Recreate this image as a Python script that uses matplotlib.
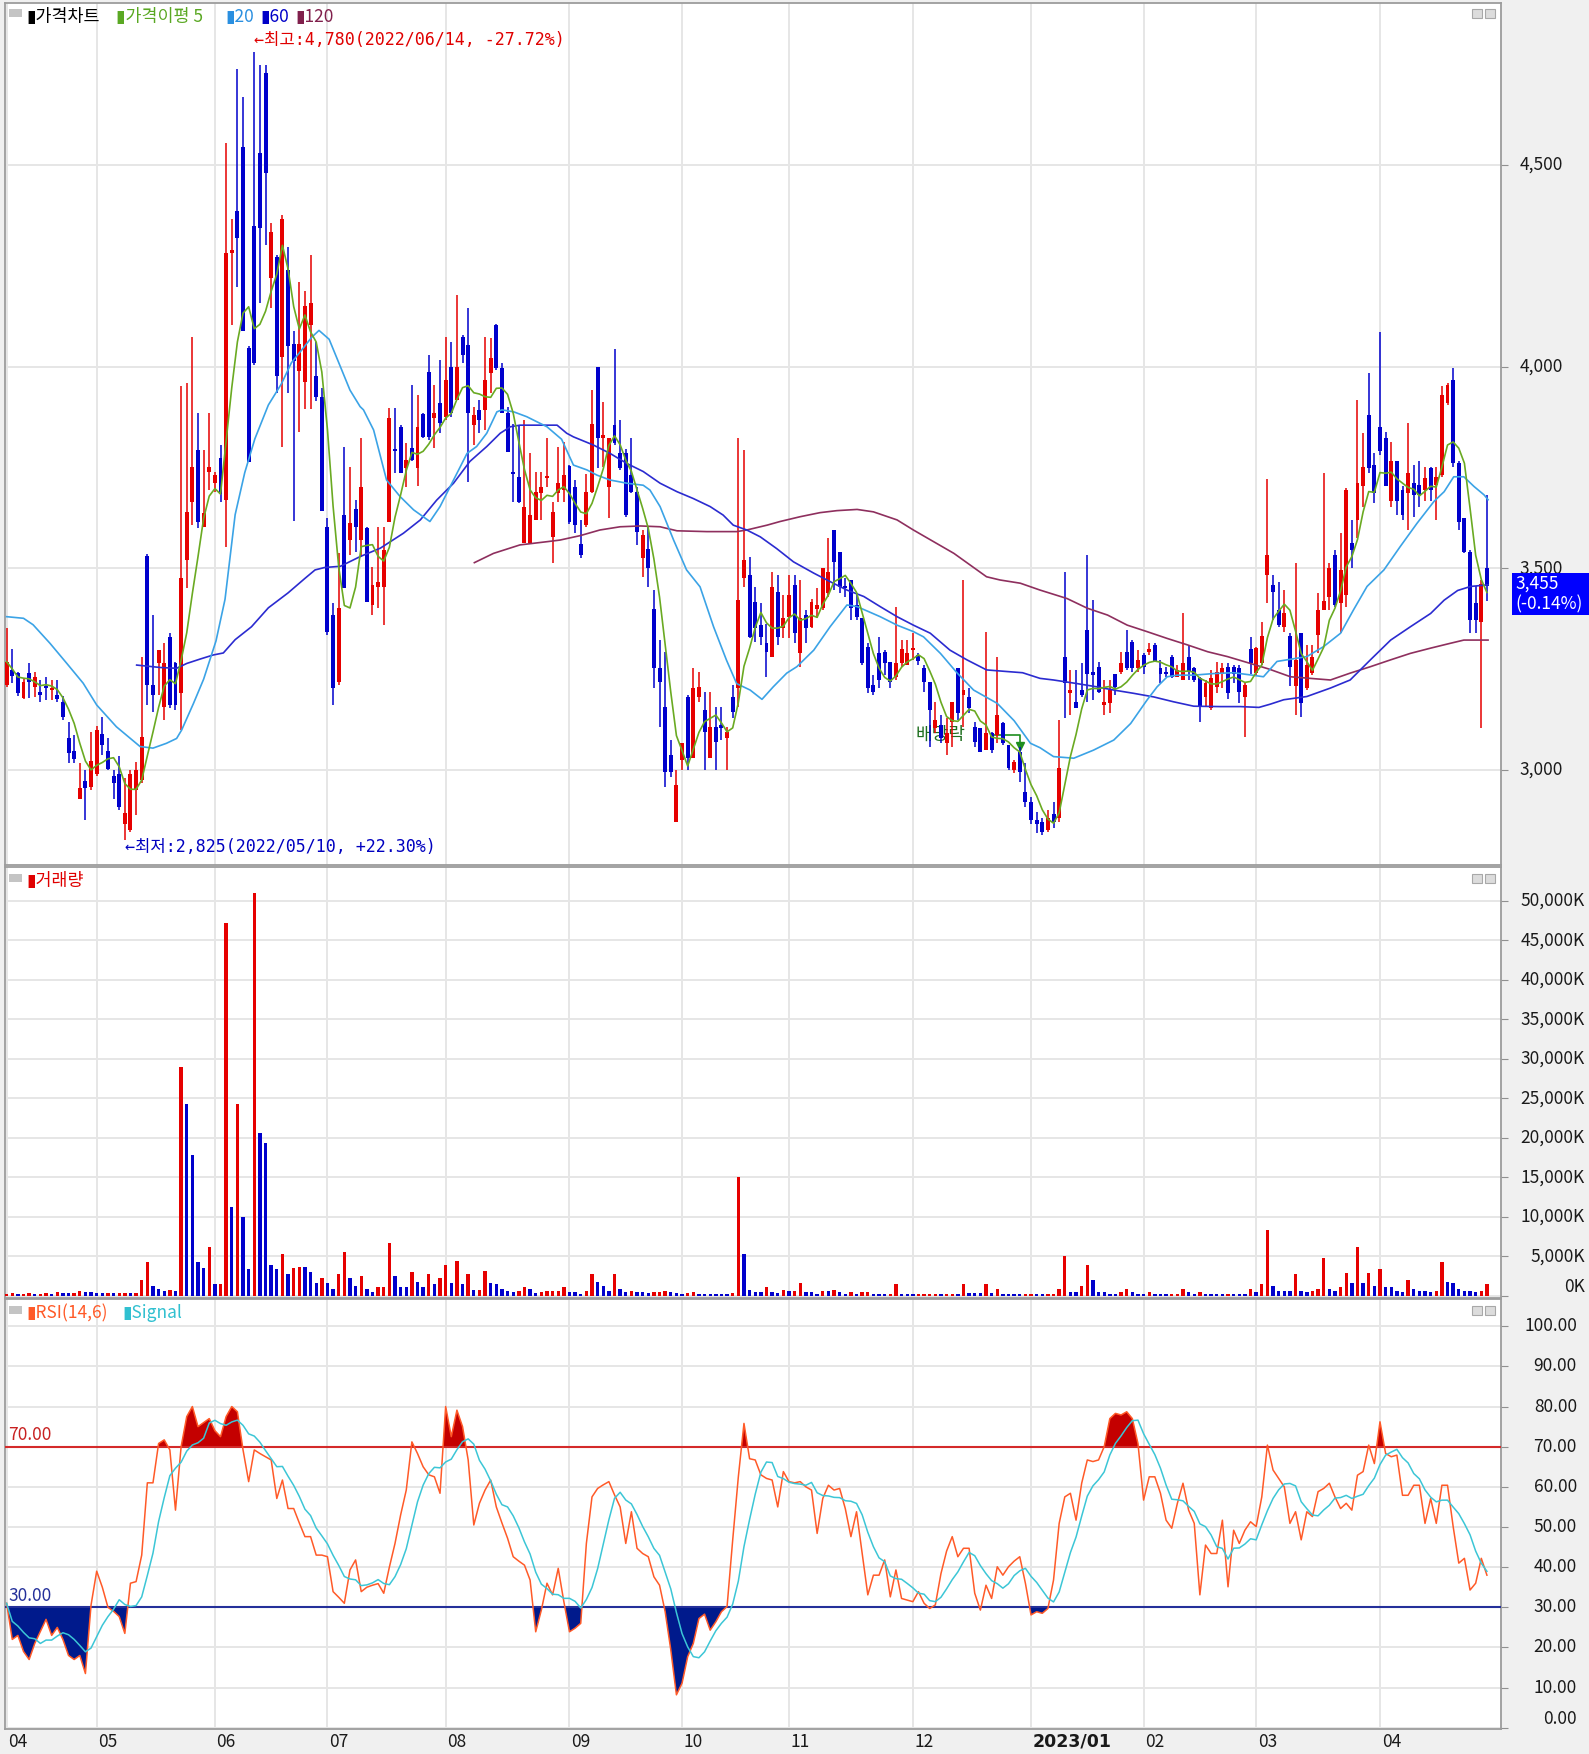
import numpy as np
import pandas as pd
import matplotlib
matplotlib.use("Agg")
import matplotlib.pyplot as plt
import matplotlib.transforms as mtransforms
from matplotlib.patches import Rectangle

plt.rcParams['font.family'] = ['Noto Sans CJK KR', 'DejaVu Sans']
plt.rcParams['axes.unicode_minus'] = False

# Trading days shown per month (Apr-2022 partial ... Apr-2023)
month_labels = ['04', '05', '06', '07', '08', '09', '10', '11', '12', '2023/01', '02', '03', '04']
month_days = [16, 21, 20, 21, 22, 20, 19, 22, 21, 20, 20, 22, 20]

opens = [
    3211, 3248, 3241, 3178, 3240, 3206, 3194, 3207, 3198, 3186, 3169, 3078, 3048, 2927, 2973, 2958,
    2990, 3088, 3048, 2985, 2991, 2867, 2851, 2950, 2975, 3530, 3211, 3264, 3157, 3330, 3264, 3190,
    3520, 3665, 3793, 3603, 3740, 3711, 3774, 3669, 4282, 4387, 4546, 4046, 4350, 4529, 4728, 4219,
    4272, 4025, 4240, 4057, 3989, 3963, 4104, 3978, 3926, 3603, 3384, 3219, 3632, 3570, 3646, 3570,
    3599, 3409, 3454, 3454, 3616, 3795, 3851, 3748, 3798, 3748, 3882, 3988, 3872, 3909, 3876, 4000,
    3917, 4074, 4054, 3855, 3893, 3893, 3984, 4103, 3996, 3884, 3740, 3727, 3562, 3562, 3620, 3686,
    3723, 3578, 3686, 3694, 3754, 3702, 3560, 3607, 3690, 4000, 3822, 3702, 3855, 3785, 3785, 3731,
    3690, 3525, 3549, 3400, 3252, 3157, 3037, 2871, 3024, 3182, 3029, 3182, 3148, 3029, 3107, 3111,
    3078, 3182, 3202, 3475, 3483, 3417, 3359, 3314, 3281, 3442, 3351, 3380, 3458, 3289, 3384, 3355,
    3400, 3401, 3438, 3595, 3541, 3457, 3471, 3409, 3376, 3306, 3211, 3289, 3293, 3268, 3231, 3264,
    3260, 3298, 3285, 3252, 3219, 3103, 3111, 3066, 3120, 3252, 3186, 3182, 3107, 3103, 3049, 3091,
    3087, 3116, 3062, 2999, 3045, 2946, 2921, 2876, 2870, 2852, 2890, 2880, 3281, 3190, 3169, 3198,
    3347, 3244, 3256, 3161, 3165, 3239, 3244, 3293, 3318, 3252, 3285, 3293, 3310, 3252, 3243, 3281,
    3231, 3223, 3281, 3252, 3227, 3182, 3153, 3206, 3239, 3256, 3256, 3252, 3182, 3301, 3240, 3264,
    3484, 3459, 3397, 3355, 3331, 3207, 3339, 3203, 3240, 3335, 3397, 3430, 3533, 3413, 3434, 3562,
    3620, 3703, 3880, 3756, 3850, 3823, 3666, 3765, 3694, 3686, 3711, 3707, 3694, 3748, 3707, 3732,
    3909, 3967, 3761, 3624, 3541, 3413, 3368, 3500,
]
highs = [
    3351, 3301, 3244, 3227, 3264, 3244, 3223, 3231, 3223, 3223, 3183, 3120, 3087, 3016, 3000, 3095,
    3110, 3132, 3078, 3000, 3035, 2979, 3000, 3020, 3281, 3535, 3384, 3297, 3314, 3339, 3268, 3952,
    3960, 4074, 3884, 3793, 3884, 3740, 3806, 4555, 4366, 4738, 4670, 4052, 4780, 4749, 4749, 4356,
    4277, 4377, 4298, 4088, 4209, 4188, 4277, 4062, 3947, 3624, 3413, 3537, 3802, 3752, 3669, 3822,
    3603, 3504, 3603, 3603, 3897, 3897, 3855, 3810, 3955, 3930, 3884, 4029, 3955, 4017, 4074, 4062,
    4178, 4079, 4145, 3901, 3917, 4074, 4070, 4107, 4008, 3901, 3859, 3855, 3868, 3785, 3740, 3740,
    3822, 3665, 3802, 3814, 3756, 3719, 3620, 3735, 3942, 4000, 3913, 3822, 4045, 3868, 3797, 3822,
    3702, 3595, 3603, 3446, 3322, 3293, 3074, 3000, 3066, 3186, 3252, 3244, 3194, 3194, 3157, 3157,
    3107, 3211, 3822, 3793, 3529, 3454, 3413, 3363, 3491, 3483, 3434, 3483, 3483, 3471, 3397, 3425,
    3450, 3500, 3574, 3595, 3541, 3475, 3471, 3438, 3376, 3314, 3235, 3330, 3297, 3268, 3405, 3322,
    3322, 3339, 3289, 3260, 3219, 3169, 3136, 3128, 3169, 3252, 3471, 3202, 3120, 3103, 3343, 3095,
    3281, 3120, 3062, 3025, 3058, 3016, 2934, 2896, 2880, 2900, 2920, 3124, 3491, 3248, 3248, 3264,
    3533, 3421, 3268, 3223, 3223, 3239, 3293, 3347, 3322, 3297, 3289, 3314, 3314, 3272, 3256, 3285,
    3260, 3388, 3310, 3256, 3231, 3223, 3248, 3268, 3264, 3264, 3260, 3260, 3215, 3330, 3306, 3368,
    3721, 3484, 3467, 3446, 3339, 3513, 3339, 3310, 3310, 3438, 3736, 3513, 3546, 3587, 3699, 3620,
    3918, 3835, 3984, 3785, 4087, 3839, 3814, 3765, 3703, 3860, 3756, 3765, 3752, 3752, 3752, 3951,
    3959, 3996, 3765, 3624, 3546, 3455, 3470, 3682,
]
lows = [
    3205, 3215, 3184, 3175, 3178, 3182, 3169, 3173, 3173, 3169, 3124, 3018, 3018, 2927, 2876, 2950,
    2985, 3037, 3000, 2927, 2901, 2825, 2845, 2888, 2967, 3160, 3144, 3186, 3124, 3153, 3149, 3099,
    3450, 3607, 3599, 3603, 3694, 3690, 3664, 3554, 4104, 4198, 4088, 3764, 4005, 4157, 4303, 4146,
    3936, 3800, 3936, 3617, 3837, 3895, 3895, 3915, 3643, 3335, 3161, 3211, 3450, 3533, 3541, 3529,
    3417, 3384, 3401, 3359, 3616, 3736, 3736, 3702, 3765, 3703, 3822, 3818, 3798, 3835, 3868, 3876,
    3917, 4008, 3715, 3806, 3835, 3843, 3934, 3992, 3884, 3789, 3665, 3661, 3562, 3562, 3620, 3620,
    3702, 3512, 3665, 3665, 3611, 3587, 3525, 3603, 3686, 3748, 3752, 3624, 3806, 3744, 3628, 3686,
    3558, 3479, 3454, 3202, 3107, 2958, 2983, 2871, 3000, 3000, 3029, 3169, 3000, 3029, 3000, 3074,
    3000, 3128, 3157, 3454, 3326, 3318, 3310, 3231, 3281, 3310, 3326, 3326, 3314, 3256, 3314, 3351,
    3376, 3397, 3430, 3446, 3438, 3430, 3372, 3372, 3260, 3190, 3186, 3202, 3235, 3202, 3223, 3256,
    3260, 3273, 3260, 3194, 3058, 3091, 3066, 3037, 3058, 3124, 3107, 3140, 3058, 3045, 3049, 3041,
    3066, 3062, 3000, 2992, 2971, 2909, 2867, 2843, 2838, 2845, 2855, 2870, 3128, 3136, 3153, 3182,
    3169, 3173, 3190, 3136, 3140, 3186, 3239, 3248, 3244, 3244, 3239, 3285, 3268, 3215, 3231, 3227,
    3231, 3223, 3223, 3219, 3120, 3157, 3148, 3190, 3202, 3177, 3215, 3165, 3082, 3239, 3236, 3260,
    3413, 3372, 3355, 3343, 3207, 3136, 3132, 3198, 3236, 3289, 3397, 3397, 3405, 3339, 3405, 3500,
    3575, 3653, 3736, 3661, 3780, 3703, 3653, 3632, 3620, 3595, 3628, 3653, 3666, 3666, 3620, 3727,
    3905, 3752, 3595, 3537, 3339, 3339, 3103, 3418,
]
closes = [
    3268, 3233, 3190, 3219, 3219, 3231, 3186, 3202, 3202, 3175, 3130, 3043, 3027, 2955, 2954, 3021,
    3100, 3062, 3001, 2967, 2909, 2892, 2991, 3000, 3082, 3210, 3186, 3297, 3264, 3161, 3161, 3475,
    3640, 3752, 3616, 3636, 3752, 3732, 3685, 4282, 4290, 4319, 4088, 3764, 4010, 4345, 4481, 4335,
    3978, 4366, 4052, 4015, 4057, 4151, 4157, 3926, 3643, 3343, 3202, 3401, 3450, 3612, 3603, 3702,
    3417, 3459, 3467, 3545, 3872, 3790, 3737, 3768, 3769, 3851, 3826, 3826, 3884, 3860, 3967, 3884,
    4000, 4029, 3884, 3880, 3868, 3967, 4021, 3996, 3884, 3789, 3734, 3665, 3653, 3632, 3690, 3702,
    3728, 3640, 3711, 3731, 3616, 3607, 3533, 3690, 3859, 3822, 3830, 3822, 3810, 3748, 3632, 3690,
    3591, 3582, 3500, 3252, 3219, 2996, 2996, 2962, 3066, 3029, 3202, 3206, 3095, 3107, 3070, 3105,
    3095, 3144, 3421, 3520, 3330, 3351, 3330, 3293, 3454, 3330, 3376, 3434, 3339, 3376, 3351, 3417,
    3409, 3500, 3492, 3516, 3454, 3450, 3401, 3380, 3264, 3202, 3194, 3223, 3264, 3219, 3266, 3301,
    3289, 3302, 3269, 3219, 3149, 3124, 3078, 3091, 3169, 3140, 3198, 3153, 3070, 3045, 3091, 3049,
    3136, 3066, 3004, 3020, 2996, 2921, 2876, 2867, 2846, 2880, 2870, 3004, 3215, 3198, 3153, 3186,
    3239, 3235, 3194, 3169, 3198, 3206, 3264, 3252, 3252, 3272, 3256, 3301, 3268, 3239, 3239, 3231,
    3248, 3264, 3244, 3223, 3157, 3215, 3227, 3244, 3252, 3190, 3239, 3194, 3210, 3264, 3302, 3331,
    3533, 3442, 3360, 3389, 3256, 3273, 3165, 3260, 3281, 3397, 3418, 3500, 3409, 3496, 3694, 3546,
    3711, 3752, 3748, 3686, 3790, 3703, 3765, 3666, 3632, 3736, 3682, 3682, 3723, 3694, 3727, 3930,
    3955, 3761, 3616, 3541, 3372, 3372, 3460, 3455,
]
# volume in thousands of shares
volume_k = [
    300, 320, 300, 310, 320, 300, 310, 320, 300, 460, 330, 320, 340, 670, 500, 500,
    340, 330, 340, 330, 335, 340, 330, 340, 2024, 4343, 1265, 886, 675, 700, 650, 28930,
    24250, 17840, 4343, 3585, 6241, 1476, 1520, 47146, 11300, 24250, 10040, 3374, 50940, 20580, 19310, 3922,
    3374, 5271, 2783, 3585, 3711, 3700, 2994, 1687, 2235, 1687, 886, 2783, 5609, 2235, 1265, 2572,
    886, 464, 1096, 1110, 6747, 2572, 1096, 1090, 2994, 1813, 1096, 2783, 1476, 2235, 3922, 1687,
    4470, 1476, 2783, 759, 780, 3163, 1602, 1476, 886, 675, 464, 675, 1096, 886, 337, 548,
    675, 680, 690, 1096, 464, 460, 253, 675, 2783, 1813, 1265, 675, 2783, 886, 464, 675,
    464, 464, 420, 460, 500, 675, 460, 420, 253, 420, 464, 253, 250, 245, 240, 235,
    230, 337, 15100, 5271, 760, 550, 460, 1100, 500, 420, 700, 680, 690, 1687, 464, 460,
    253, 675, 670, 700, 464, 253, 460, 253, 464, 470, 253, 250, 245, 260, 1476, 253,
    250, 245, 255, 260, 265, 270, 260, 265, 270, 260, 1476, 337, 330, 320, 1476, 337,
    886, 253, 253, 250, 245, 250, 255, 250, 245, 250, 255, 886, 5060, 464, 460, 1265,
    3922, 2024, 464, 460, 253, 250, 464, 886, 464, 253, 250, 464, 253, 250, 245, 250,
    260, 886, 464, 253, 464, 253, 250, 245, 240, 250, 245, 240, 235, 886, 464, 1476,
    8350, 1265, 675, 670, 660, 2783, 675, 464, 675, 886, 4850, 886, 675, 1096, 2952, 1687,
    6157, 1687, 2952, 1265, 3374, 1096, 1090, 675, 464, 2024, 886, 675, 670, 464, 675, 4343,
    1813, 1602, 886, 675, 670, 464, 675, 1476,
]
rsi = [
    31, 22, 23, 19, 17, 21, 24, 27, 23, 25, 22, 18, 17, 18, 13.5, 30.6,
    39, 35, 30, 29, 27.7, 23.5, 36, 36.4, 43, 61, 61, 70.8, 71.7, 69.2, 54.2, 70,
    77.5, 80, 75, 76, 77, 74, 72.5, 77.5, 80, 78.7, 69.2, 61.3, 69.2, 68.3, 67.5, 66.7,
    57.1, 61.7, 54.6, 54.6, 51, 47.6, 47.6, 43, 43, 42.6, 33.9, 32.5, 31, 39.3, 41.8, 33.9,
    35, 35.5, 35.9, 33.5, 40, 45.9, 53, 59.2, 71.2, 68.3, 65, 63, 62.5, 58.4, 80, 72.5,
    79.1, 75, 66.7, 50.5, 55.9, 59.2, 61.7, 55, 51, 47.2, 42.6, 41.5, 40.5, 36.8, 23.9, 29.3,
    36, 33.1, 39.7, 31.4, 23.9, 24.8, 26, 45.9, 57.5, 59.6, 60.5, 61.3, 58, 55, 45.9, 53.8,
    44.7, 43.4, 42.6, 37.6, 35.5, 28.9, 19.4, 8.2, 11.1, 17.7, 21, 27.2, 28.3, 24.3, 26.4, 28.9,
    30.2, 46.8, 62.5, 75.8, 67, 66.7, 63, 62.1, 61.7, 55, 63.8, 61.3, 61, 61.3, 60, 59.2,
    48.4, 57.1, 60.4, 59.2, 59.6, 54.6, 47.6, 53.8, 43.4, 33.1, 38, 38, 41.8, 32.6, 39.3, 32.2,
    31.8, 31.4, 33.9, 31, 29.7, 30.6, 38.4, 44, 47.6, 42.6, 44.7, 44.7, 33.5, 29.3, 35.5, 32.2,
    40.1, 38, 40.1, 41.5, 42.6, 36, 28.1, 28.9, 28.5, 29.7, 36.8, 50.9, 57.5, 58.4, 51.7, 60.9,
    66.7, 66.3, 66.7, 70, 77, 78.3, 77.9, 78.7, 77, 70.8, 56.7, 62.5, 62.5, 58.4, 51.7, 49.7,
    55.9, 60.9, 54.2, 50.9, 33.1, 45.5, 43.4, 43.4, 51.7, 35.1, 49.2, 45.9, 49.2, 51.3, 50.1, 57.5,
    70.4, 64.2, 62.1, 60, 50.9, 53.8, 46.8, 53.8, 52.6, 58.8, 59.6, 60.9, 57.5, 54.6, 55.9, 54.2,
    62.9, 63.8, 70.4, 65.8, 76.2, 68.3, 67.5, 67.9, 57.9, 57.9, 60.4, 60.4, 50.9, 57.1, 50.9, 60.4,
    60.4, 50.1, 41, 42.2, 34.3, 36, 42.2, 38,
]

# moving averages as (day, value) points
ma20_days = [0, 3, 4.7, 7.7, 10.7, 13.6, 16, 19.5, 23.7, 26, 28.4, 30.2, 31.1, 33.2, 35, 37.2, 38.8, 40.6,
             42.3, 44.1, 46.5, 48.8, 50.6, 52.4, 54.2, 55.5, 57.3, 59.3, 61, 62.8, 63.4, 65.2, 67.5, 69.9,
             72.3, 75.2, 77, 79.4, 81.8, 83.5, 85.3, 87.1, 88, 90.1, 92.4, 96, 98.6, 100.7, 103.1, 104.9,
             107.2, 110.2, 113.1, 114.3, 116.1, 118.5, 120.8, 123.2, 125.6, 127.9, 129.7, 132.1, 134.2,
             136.2, 138.6, 140.4, 143.4, 146.3, 149.3, 151.1, 155.2, 158.2, 161.1, 162.9, 165.9, 168.9,
             171.8, 176, 179, 181.9, 183.6, 186, 189.6, 193.1, 196.7, 199.7, 202.6, 204.4, 206.2, 208,
             210.9, 214.5, 218, 221.3, 223.3, 225.7, 231, 234, 237, 239.3, 241.7, 244.7, 247.6, 250.6,
             253.6, 255.4, 257.1, 258.9, 260.7, 262.5, 263.2]
ma20_vals = [3380, 3376, 3360, 3314, 3264, 3215, 3161, 3107, 3058, 3054, 3066, 3078, 3099, 3165, 3225, 3320,
             3423, 3633, 3737, 3821, 3905, 3957, 4010, 4041, 4073, 4090, 4068, 4000, 3942, 3901, 3893, 3843,
             3719, 3678, 3645, 3616, 3653, 3719, 3785, 3802, 3835, 3888, 3893, 3888, 3876, 3851, 3820, 3756,
             3744, 3731, 3719, 3711, 3706, 3694, 3653, 3570, 3496, 3454, 3355, 3272, 3214, 3198, 3175, 3206,
             3240, 3256, 3297, 3355, 3409, 3405, 3380, 3359, 3343, 3330, 3289, 3240, 3198, 3165, 3122, 3066,
             3055, 3033, 3029, 3049, 3074, 3115, 3173, 3206, 3231, 3235, 3235, 3239, 3241, 3235, 3231, 3269,
             3281, 3306, 3339, 3397, 3455, 3496, 3554, 3612, 3666, 3690, 3727, 3727, 3703, 3682, 3670]
ma60_days = [23.1, 27.3, 30.2, 32, 34.4, 36.7, 38.5, 40.6, 43.5, 46.5, 50, 53, 54.8, 56.5, 59.3, 62.8, 66.4,
             70.5, 73.5, 76.4, 79.4, 82.3, 85.3, 87.7, 89.5, 91.2, 94.2, 97.8, 99.5, 100.7, 104.2, 107.2,
             110.2, 113.1, 116.1, 119.1, 122, 125, 127.3, 129.1, 131.5, 133.9, 136.8, 139.8, 143.4, 146.3,
             149.3, 152.3, 155.2, 158.2, 161.1, 164.1, 167.6, 170.6, 174.1, 177.7, 180.5, 183.6, 186, 190.2,
             193.7, 196.7, 200.2, 203.8, 207.3, 210.9, 215.6, 219.2, 222.5, 224.5, 226.9, 231, 235.2, 238.7,
             242.3, 245.9, 249.4, 253, 255.4, 257.8, 260.1, 263.2]
ma60_vals = [3260, 3254, 3252, 3264, 3275, 3285, 3290, 3323, 3355, 3402, 3439, 3475, 3496, 3502, 3505, 3529,
             3550, 3587, 3620, 3669, 3711, 3765, 3802, 3835, 3851, 3855, 3855, 3855, 3835, 3826, 3806, 3785,
             3760, 3740, 3711, 3690, 3673, 3653, 3632, 3607, 3595, 3578, 3549, 3516, 3488, 3467, 3446, 3430,
             3405, 3380, 3359, 3339, 3297, 3273, 3248, 3244, 3241, 3227, 3223, 3214, 3206, 3198, 3190, 3181,
             3169, 3158, 3157, 3157, 3155, 3163, 3174, 3182, 3203, 3223, 3273, 3322, 3355, 3388, 3421, 3445,
             3455, 3459]
ma120_days = [83.1, 86.5, 91.2, 96, 98.3, 101.9, 105.4, 109, 112.6, 116.1, 119.1, 124.4, 129.7, 131.5, 135.1,
              137.4, 141, 144.5, 147.5, 151.1, 154, 158.2, 161.1, 164.7, 168.3, 171.2, 174.1, 176.5, 180.1,
              183.6, 188.4, 192, 195.6, 199.1, 202.6, 206.2, 209.8, 213.4, 216.9, 220.5, 224.3, 228.1, 231.6,
              235.2, 238.7, 242.3, 245.9, 249.4, 253, 256.5, 258.9, 263.2]
ma120_vals = [3514, 3537, 3558, 3566, 3570, 3581, 3595, 3603, 3605, 3603, 3593, 3591, 3591, 3595, 3607,
              3616, 3628, 3638, 3643, 3646, 3640, 3620, 3595, 3566, 3537, 3508, 3479, 3471, 3463,
              3446, 3425, 3401, 3384, 3359, 3343, 3326, 3310, 3293, 3281, 3266, 3250, 3231, 3227,
              3223, 3240, 3256, 3273, 3289, 3302, 3314, 3322, 3322]

for arr in (opens, highs, lows, closes, volume_k, rsi):
    assert len(arr) == 264, len(arr)

RED, BLUE = '#e60000', '#0000cc'
W, H = 1589, 1754
MONO = ['DejaVu Sans Mono', 'Noto Sans CJK KR']


def rect(x0, y0, x1, y1):
    return [x0 / W, 1 - y1 / H, (x1 - x0) / W, (y1 - y0) / H]


def px(x, y):
    return x / W, 1 - y / H


o, h, l, c = (np.array(a, dtype=float) for a in (opens, highs, lows, closes))
x = np.arange(len(c))
month_start = np.concatenate([[0], np.cumsum(month_days)[:-1]])

fig = plt.figure(figsize=(W / 100, H / 100), dpi=100, facecolor='#f0f0f0')
ax_p = fig.add_axes(rect(5, 3, 1501, 865))
ax_v = fig.add_axes(rect(5, 867, 1501, 1298))
ax_r = fig.add_axes(rect(5, 1299, 1501, 1729))


def style(ax, ylim, yticks, labels, label_x):
    ax.set_xlim(-0.29, 265.5)
    ax.set_ylim(*ylim)
    ax.set_facecolor('white')
    ax.set_xticks(month_start)
    ax.set_yticks(yticks)
    ax.grid(True, color='#e6e6e6', lw=1.4)
    ax.set_axisbelow(True)
    ax.tick_params(axis='x', length=0, labelbottom=False)
    ax.tick_params(axis='y', left=False, right=True, length=5, color='#909090',
                   labelleft=False, labelright=False)
    for s in ax.spines.values():
        s.set_color('#9c9c9c')
        s.set_linewidth(1.3)
    tr = mtransforms.blended_transform_factory(ax.transAxes, ax.transData)
    for v, t in zip(yticks, labels):
        ax.text(label_x, v, t, transform=tr, ha='right', va='bottom' if v == 0 else 'center',
                fontsize=12.5, color='#1a1a1a', clip_on=False)


# ---- price panel
price_ticks = [3000, 3500, 4000, 4500]
k = 500 / 201.6
style(ax_p, (4000 - (865 - 366.7) * k, 4000 + (366.7 - 3) * k), price_ticks,
      [f'{v:,}' for v in price_ticks], 1.0414)

col = np.where(c >= o, RED, BLUE)
ax_p.vlines(x, l, h, colors=col, lw=1.1, zorder=3)
body = np.maximum(np.abs(c - o), 4)
ax_p.bar(x, body, bottom=np.minimum(o, c), width=0.7, color=col, linewidth=0, zorder=4)

ma5 = pd.Series(c).rolling(5, min_periods=1).mean()
ax_p.plot(ma120_days, ma120_vals, color='#8e2f5e', lw=1.2, zorder=5)
ax_p.plot(ma60_days, ma60_vals, color='#2b2bd0', lw=1.2, zorder=5)
ax_p.plot(ma20_days, ma20_vals, color='#3ba3e6', lw=1.2, zorder=5)
ax_p.plot(x, ma5, color='#6aaa22', lw=1.2, zorder=6)

hi, lo = int(np.argmax(h)), int(np.argmin(l))
ax_p.text(hi, 4810, f'←최고:{h[hi]:,.0f}(2022/06/14, -27.72%)', color='#e00000',
          fontsize=12, family=MONO, ha='left', va='center', zorder=7)
ax_p.text(lo, 2808, f'←최저:{l[lo]:,.0f}(2022/05/10, +22.30%)', color='#0000c0',
          fontsize=12, family=MONO, ha='left', va='center', zorder=7)

# ex-dividend marker
ax_p.text(161.5, 3087, '배당락', color='#1e6e1e', fontsize=13, ha='left', va='center', zorder=2)
ax_p.plot([175.2, 180, 180], [3087, 3087, 3064], color='#1e8e1e', lw=1.2, zorder=2)
ax_p.plot([180], [3060], marker='v', color='#1e8e1e', ms=6, zorder=2)

# ---- volume panel
vol = np.array(volume_k, dtype=float)
vcol = [RED] + [RED if vol[i] > vol[i - 1] else BLUE for i in range(1, len(vol))]
vk = 50000 / 395.3
vol_ticks = list(range(0, 50001, 5000))
style(ax_v, (-(1298 - 1296) * vk, (1296 - 867) * vk), vol_ticks,
      [f'{v:,}K' for v in vol_ticks], 1.0561)
ax_v.bar(x, vol, width=0.6, color=vcol, linewidth=0, zorder=3)

# ---- RSI panel
r = np.array(rsi)
signal = pd.Series(r).rolling(6, min_periods=1).mean()
rk = 40 / 160.6
rsi_ticks = list(range(0, 101, 10))
style(ax_r, (-(1729 - 1727.75) * rk, 100 + (1326.25 - 1299) * rk), rsi_ticks,
      [f'{v:.2f}' for v in rsi_ticks], 1.0508)
ax_r.fill_between(x, r, 70, where=r >= 70, interpolate=True, color='#c40000', lw=0, zorder=2)
ax_r.fill_between(x, r, 30, where=r <= 30, interpolate=True, color='#001a8c', lw=0, zorder=2)
ax_r.axhline(70, color='#d42a2a', lw=1.5, zorder=3)
ax_r.axhline(30, color='#24309a', lw=1.5, zorder=3)
ax_r.plot(x, r, color='#ff5a28', lw=1.1, zorder=4)
ax_r.plot(x, signal, color='#3cc6d6', lw=1.1, zorder=5)
trr = mtransforms.blended_transform_factory(ax_r.transAxes, ax_r.transData)
ax_r.text(0.002, 70.6, '70.00', transform=trr, color='#c82020', fontsize=12.5, va='bottom')
ax_r.text(0.002, 30.6, '30.00', transform=trr, color='#24309a', fontsize=12.5, va='bottom')

# month labels along the bottom
trx = mtransforms.blended_transform_factory(ax_r.transData, ax_r.transAxes)
for ms, lab in zip(month_start, month_labels):
    bold = '/' in lab
    ax_r.text(ms + 0.3, -0.03, lab, transform=trx, ha='left', va='center', fontsize=12.5,
              color='#1a1a1a', fontweight='bold' if bold else 'normal',
              family=['DejaVu Sans'] if bold else None, clip_on=False)

# panel headers
for y0 in (9, 874, 1306):
    fig.add_artist(Rectangle(px(9, y0 + 8), 13 / W, 8 / H, transform=fig.transFigure,
                             color='#c4c4c4', lw=0))
    for xx in (1472, 1485):
        fig.add_artist(Rectangle(px(xx, y0 + 9), 10 / W, 9 / H, transform=fig.transFigure,
                                 facecolor='#dcdcdc', edgecolor='#a8a8a8', lw=0.8))

fig.text(*px(26, 17), '▮가격차트', color='#000000', fontsize=12.5, va='center')
fig.text(*px(116, 17), '▮가격이평 5', color='#5aa823', fontsize=12.5, va='center')
fig.text(*px(225, 17), '▮20', color='#2a8fe0', fontsize=12.5, va='center')
fig.text(*px(260, 17), '▮60', color='#0000c8', fontsize=12.5, va='center')
fig.text(*px(295, 17), '▮120', color='#80204c', fontsize=12.5, va='center')
fig.text(*px(26, 881), '▮거래량', color='#e00000', fontsize=12.5, va='center')
fig.text(*px(26, 1313), '▮RSI(14,6)', color='#ff5a28', fontsize=12.5, va='center')
fig.text(*px(122, 1313), '▮Signal', color='#30c0d0', fontsize=12.5, va='center')

# current price tag
fig.add_artist(Rectangle(px(1512, 615), 77 / W, 42 / H, transform=fig.transFigure,
                         color='#0000ff', lw=0))
fig.text(*px(1515, 584), f'{c[-1]:,.0f}', color='white', fontsize=12.5, va='center')
fig.text(*px(1515, 604), '(-0.14%)', color='white', fontsize=12.5, va='center')

fig.savefig('out.png', dpi=100, facecolor=fig.get_facecolor())
